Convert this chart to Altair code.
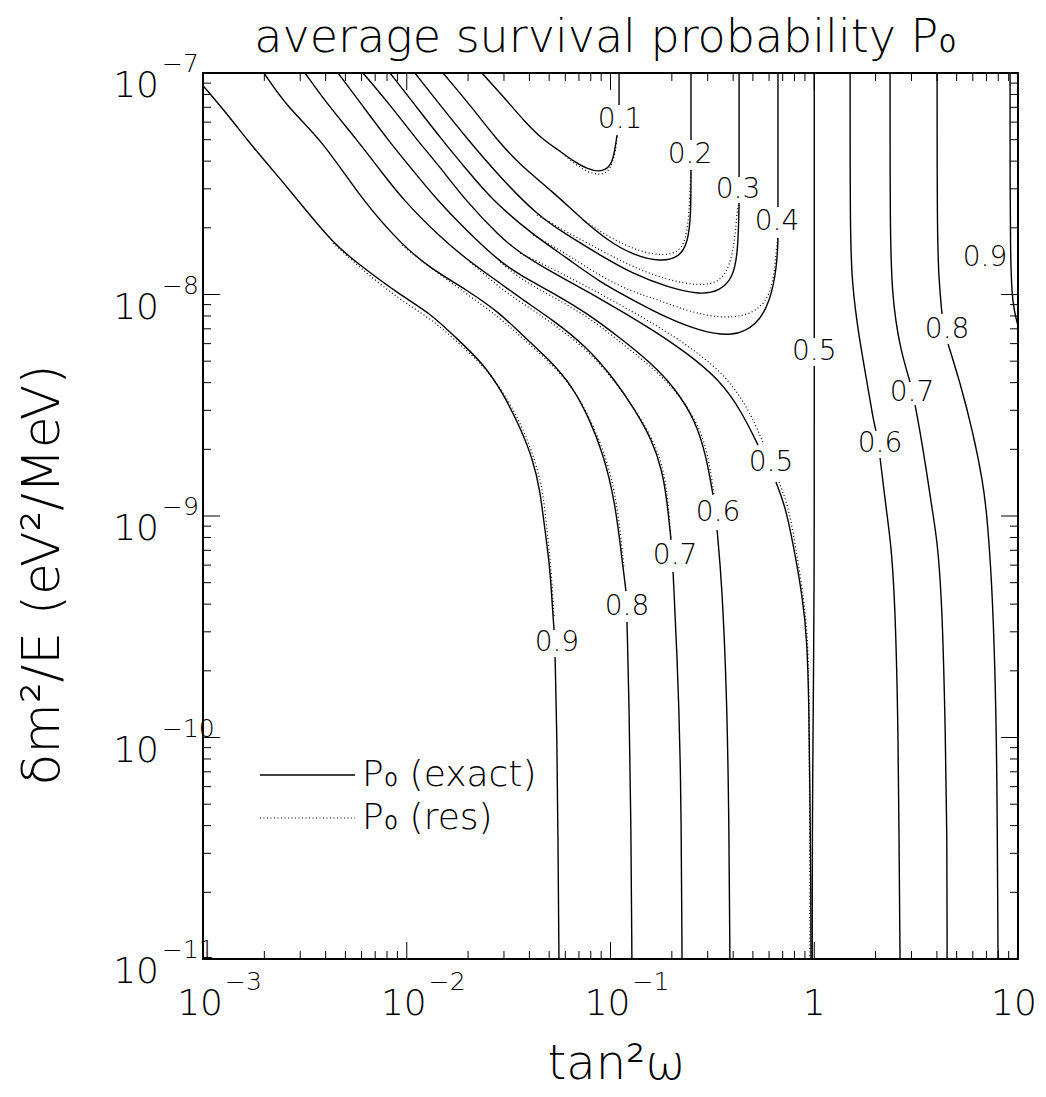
import altair as alt
import pandas as pd

FONT = "DejaVu Sans"
FW = 200
W, H = 815, 886

# ---------- contour lines, exact P0 (values: log10 tan^2w , log10 dm^2/E) ----------
e01a_x = [-1.631, -1.533, -1.420, -1.331, -1.248, -1.184, -1.115, -1.052, -1.007, -0.983, -0.968]
e01a_y = [-7.0, -7.099, -7.221, -7.302, -7.352, -7.397, -7.433, -7.447, -7.429, -7.379, -7.280]
e01b_x = [-0.958, -0.958]
e01b_y = [-7.144, -7.0]

e02a_x = [-1.822, -1.690, -1.557, -1.444, -1.282, -1.135, -1.017, -0.890, -0.757, -0.659, -0.620, -0.605, -0.605]
e02a_y = [-7.0, -7.144, -7.302, -7.415, -7.537, -7.664, -7.754, -7.822, -7.853, -7.831, -7.763, -7.641, -7.438]
e02b_x = [-0.605, -0.605]
e02b_y = [-7.302, -7.0]

e03a_x = [-1.960, -1.837, -1.699, -1.542, -1.361, -1.214, -1.052, -0.890, -0.723, -0.561, -0.463, -0.399, -0.374, -0.369]
e03a_y = [-7.0, -7.144, -7.302, -7.470, -7.641, -7.731, -7.822, -7.907, -7.966, -8.002, -7.984, -7.925, -7.808, -7.587]
e03b_x = [-0.369, -0.369]
e03b_y = [-7.470, -7.0]

e04a_x = [-2.082, -1.960, -1.827, -1.704, -1.582, -1.380, -1.214, -1.052, -0.890, -0.723, -0.561, -0.399, -0.281, -0.217, -0.183, -0.178]
e04a_y = [-7.0, -7.144, -7.302, -7.438, -7.573, -7.731, -7.835, -7.944, -8.025, -8.106, -8.165, -8.192, -8.138, -8.034, -7.876, -7.745]
e04b_x = [-0.178, -0.178]
e04b_y = [-7.605, -7.0]

e05a_x = [-2.215, -2.082, -1.950, -1.837, -1.714, -1.542, -1.444, -1.282, -1.037, -0.791, -0.625, -0.463, -0.355, -0.276]
e05a_y = [-7.0, -7.144, -7.302, -7.424, -7.573, -7.740, -7.813, -7.903, -8.025, -8.160, -8.264, -8.386, -8.531, -8.680]
e05b_x = [-0.188, -0.144, -0.104, -0.055, -0.036, -0.026, -0.021, -0.016, -0.016]
e05b_y = [-8.847, -8.950, -9.122, -9.379, -9.560, -9.831, -10.282, -10.734, -11.0]
e05c_x = [0.0, 0.0]
e05c_y = [-7.0, -8.196]
e05d_x = [0.0, 0.0, -0.005, -0.010, -0.010]
e05d_y = [-8.323, -9.379, -9.831, -10.508, -11.0]

e06a_x = [-2.337, -2.220, -2.092, -1.984, -1.852, -1.699, -1.542, -1.444, -1.282, -1.115, -0.953, -0.806, -0.683, -0.585, -0.531, -0.497]
e06a_y = [-7.0, -7.144, -7.302, -7.424, -7.573, -7.718, -7.853, -7.912, -7.993, -8.084, -8.196, -8.305, -8.422, -8.567, -8.725, -8.905]
e06b_x = [-0.477, -0.453, -0.428, -0.418, -0.414]
e06b_y = [-9.063, -9.303, -9.831, -10.431, -11.0]
e06c_x = [0.176, 0.176, 0.185, 0.215, 0.259, 0.288, 0.303]
e06c_y = [-7.0, -7.718, -7.944, -8.169, -8.395, -8.558, -8.616]
e06d_x = [0.323, 0.357, 0.377, 0.396, 0.411, 0.416, 0.421]
e06d_y = [-8.738, -8.996, -9.131, -9.379, -9.908, -10.431, -11.0]

e07a_x = [-2.499, -2.387, -2.244, -2.131, -2.018, -1.837, -1.690, -1.542, -1.444, -1.282, -1.115, -0.978, -0.880, -0.796, -0.747, -0.723, -0.703]
e07a_y = [-7.0, -7.144, -7.302, -7.438, -7.573, -7.740, -7.853, -7.948, -8.016, -8.115, -8.237, -8.386, -8.521, -8.657, -8.792, -8.928, -9.108]
e07b_x = [-0.693, -0.674, -0.654, -0.649]
e07b_y = [-9.253, -9.605, -10.133, -11.0]
e07c_x = [0.372, 0.372, 0.382, 0.421, 0.460, 0.470]
e07c_y = [-7.0, -7.718, -8.016, -8.242, -8.363, -8.395]
e07d_x = [0.495, 0.534, 0.583, 0.603, 0.627, 0.642, 0.652, 0.652]
e07d_y = [-8.499, -8.693, -8.996, -9.108, -9.379, -9.908, -10.431, -11.0]

e08a_x = [-2.701, -2.583, -2.416, -2.220, -2.023, -1.886, -1.704, -1.542, -1.444, -1.297, -1.184, -1.101, -1.037, -0.978, -0.939, -0.924]
e08a_y = [-7.0, -7.158, -7.302, -7.573, -7.777, -7.880, -7.980, -8.084, -8.174, -8.296, -8.418, -8.567, -8.716, -8.928, -9.230, -9.339]
e08b_x = [-0.919, -0.909, -0.899, -0.895]
e08b_y = [-9.479, -9.831, -10.431, -11.0]
e08c_x = [0.603, 0.603, 0.612, 0.627]
e08c_y = [-7.0, -7.718, -7.944, -8.088]
e08d_x = [0.657, 0.715, 0.779, 0.828, 0.848, 0.872, 0.887, 0.897, 0.902]
e08d_y = [-8.224, -8.395, -8.621, -8.847, -8.996, -9.303, -9.682, -10.133, -11.0]

e09a_x = [-3.0, -2.877, -2.779, -2.696, -2.612, -2.524, -2.362, -2.244, -2.033, -1.886, -1.773, -1.626, -1.528, -1.444, -1.380, -1.346, -1.322, -1.297, -1.282, -1.277]
e09a_y = [-7.057, -7.190, -7.307, -7.397, -7.488, -7.587, -7.768, -7.858, -8.002, -8.084, -8.183, -8.309, -8.445, -8.598, -8.747, -8.883, -9.063, -9.230, -9.456, -9.515]
e09b_x = [-1.272, -1.263, -1.258, -1.253]
e09b_y = [-9.637, -9.980, -10.431, -11.0]
e09c_x = [0.961, 0.961, 0.976, 0.990, 1.0]
e09c_y = [-7.0, -7.898, -8.047, -8.106, -8.142]

# ---------- contour lines, resonance approximation (dotted) ----------
r01_x = [-1.248, -1.184, -1.115, -1.052, -1.012, -0.988, -0.973, -0.968]
r01_y = [-7.352, -7.406, -7.447, -7.461, -7.447, -7.402, -7.339, -7.280]
r02_x = [-1.135, -1.002, -0.855, -0.733, -0.659, -0.629, -0.615, -0.610, -0.605]
r02_y = [-7.664, -7.745, -7.808, -7.826, -7.804, -7.745, -7.641, -7.528, -7.438]
r03_x = [-1.361, -1.214, -1.052, -0.890, -0.723, -0.561, -0.463, -0.414, -0.389, -0.379, -0.369]
r03_y = [-7.641, -7.718, -7.799, -7.876, -7.935, -7.962, -7.944, -7.871, -7.754, -7.619, -7.587]
r04_x = [-1.380, -1.214, -1.052, -0.890, -0.791, -0.610, -0.463, -0.340, -0.266, -0.217, -0.193, -0.183, -0.178]
r04_y = [-7.731, -7.817, -7.917, -7.989, -8.016, -8.079, -8.106, -8.097, -8.061, -7.998, -7.889, -7.754, -7.745]
r05a_x = [-1.444, -1.272, -1.027, -0.777, -0.600, -0.433, -0.325, -0.252]
r05a_y = [-7.813, -7.889, -8.007, -8.138, -8.242, -8.368, -8.512, -8.666]
r05b_x = [-0.173, -0.129, -0.094, -0.050, -0.031, -0.026, -0.021, -0.021]
r05b_y = [-8.847, -8.950, -9.122, -9.379, -9.560, -9.831, -10.508, -11.0]
r06_x = [-1.542, -1.434, -1.272, -1.101, -0.939, -0.791, -0.664, -0.566, -0.517, -0.492]
r06_y = [-7.853, -7.935, -8.016, -8.106, -8.224, -8.332, -8.449, -8.589, -8.738, -8.905]
r07_x = [-1.690, -1.542, -1.434, -1.272, -1.101, -0.963, -0.865, -0.782, -0.737, -0.718, -0.703]
r07_y = [-7.853, -7.971, -8.038, -8.138, -8.260, -8.409, -8.540, -8.670, -8.801, -8.928, -9.108]
r08_x = [-2.023, -1.896, -1.704, -1.542, -1.434, -1.282, -1.169, -1.086, -1.022, -0.968, -0.934]
r08_y = [-7.777, -7.871, -7.998, -8.106, -8.196, -8.318, -8.440, -8.589, -8.734, -8.928, -9.230]
r09_x = [-2.362, -2.229, -2.033, -1.886, -1.763, -1.616, -1.513, -1.425, -1.366, -1.331, -1.312, -1.292, -1.277]
r09_y = [-7.768, -7.880, -8.025, -8.106, -8.205, -8.327, -8.458, -8.612, -8.761, -8.892, -9.063, -9.230, -9.456]

# ---------- contour labels ----------
lab_x = [-0.953, -0.610, -0.374, -0.183, 0.0, -0.212, -0.472, -0.683, -0.919, -1.263, 0.323, 0.480, 0.652, 0.838]
lab_y = [-7.212, -7.370, -7.528, -7.673, -8.260, -8.761, -8.987, -9.181, -9.411, -9.573, -8.675, -8.445, -8.160, -7.835]
lab_t = ["0.1", "0.2", "0.3", "0.4", "0.5", "0.5", "0.6", "0.7", "0.8", "0.9", "0.6", "0.7", "0.8", "0.9"]

# ---------- axes ----------
x_major = [1e-3, 1e-2, 1e-1, 1.0, 10.0]
x_minor = [k * 10.0 ** n for n in range(-3, 1) for k in range(2, 10)]
y_major = [1e-11, 1e-10, 1e-9, 1e-8, 1e-7]
y_minor = [k * 10.0 ** n for n in range(-11, -7) for k in range(2, 10)]
x_exp_vals = [1e-3, 1e-2, 1e-1]
x_exp_text = ["\u22123", "\u22122", "\u22121"]
y_exp_vals = [1e-7, 1e-8, 1e-9, 1e-10, 1e-11]
y_exp_text = ["\u22127", "\u22128", "\u22129", "\u221210", "\u221211"]

exact_segments = [
    (e01a_x, e01a_y), (e01b_x, e01b_y), (e02a_x, e02a_y), (e02b_x, e02b_y),
    (e03a_x, e03a_y), (e03b_x, e03b_y), (e04a_x, e04a_y), (e04b_x, e04b_y),
    (e05a_x, e05a_y), (e05b_x, e05b_y), (e05c_x, e05c_y), (e05d_x, e05d_y),
    (e06a_x, e06a_y), (e06b_x, e06b_y), (e06c_x, e06c_y), (e06d_x, e06d_y),
    (e07a_x, e07a_y), (e07b_x, e07b_y), (e07c_x, e07c_y), (e07d_x, e07d_y),
    (e08a_x, e08a_y), (e08b_x, e08b_y), (e08c_x, e08c_y), (e08d_x, e08d_y),
    (e09a_x, e09a_y), (e09b_x, e09b_y), (e09c_x, e09c_y),
]
res_segments = [
    (r01_x, r01_y), (r02_x, r02_y), (r03_x, r03_y), (r04_x, r04_y),
    (r05a_x, r05a_y), (r05b_x, r05b_y), (r06_x, r06_y), (r07_x, r07_y),
    (r08_x, r08_y), (r09_x, r09_y),
]


def seg_frame(segments, prefix):
    rows = []
    for s, (xs_, ys_) in enumerate(segments):
        for i, (a, b) in enumerate(zip(xs_, ys_)):
            rows.append({"seg": f"{prefix}{s}", "ord": i, "x": 10 ** a, "y": 10 ** b})
    return pd.DataFrame(rows)


df_exact = seg_frame(exact_segments, "e")
df_res = seg_frame(res_segments, "r")
df_lab = pd.DataFrame({"x": [10 ** v for v in lab_x], "y": [10 ** v for v in lab_y], "t": lab_t})

xs = alt.Scale(type="log", domain=[1e-3, 10])
ys = alt.Scale(type="log", domain=[1e-11, 1e-7])
X = alt.X("x:Q", scale=xs, axis=None)
Y = alt.Y("y:Q", scale=ys, axis=None)

res_lines = alt.Chart(df_res).mark_line(
    color="black", strokeWidth=1.2, strokeDash=[1, 2.5], clip=True, interpolate="basis"
).encode(x=X, y=Y, detail="seg:N", order="ord:Q")

exact_lines = alt.Chart(df_exact).mark_line(
    color="black", strokeWidth=1.4, clip=True, interpolate="basis"
).encode(x=X, y=Y, detail="seg:N", order="ord:Q")

labels = alt.Chart(df_lab).mark_text(
    font=FONT, fontWeight=FW, fontSize=28, color="black", align="center", baseline="middle"
).encode(x=X, y=Y, text="t:N")

# ticks (inside, all four sides)
dxM = pd.DataFrame({"x": x_major})
dxm = pd.DataFrame({"x": x_minor})
dyM = pd.DataFrame({"y": y_major})
dym = pd.DataFrame({"y": y_minor})
TM, Tm = 17, 8
tick_layers = []
for d, L in ((dxM, TM), (dxm, Tm)):
    tick_layers.append(alt.Chart(d).mark_rule(color="black", strokeWidth=1).encode(
        x=X, y=alt.value(H), y2=alt.value(H - L)))
    tick_layers.append(alt.Chart(d).mark_rule(color="black", strokeWidth=1).encode(
        x=X, y=alt.value(0), y2=alt.value(L)))
for d, L in ((dyM, TM), (dym, Tm)):
    tick_layers.append(alt.Chart(d).mark_rule(color="black", strokeWidth=1).encode(
        y=Y, x=alt.value(0), x2=alt.value(L)))
    tick_layers.append(alt.Chart(d).mark_rule(color="black", strokeWidth=1).encode(
        y=Y, x=alt.value(W), x2=alt.value(W - L)))

# tick labels
dxe = pd.DataFrame({"x": x_exp_vals, "e": x_exp_text, "b": ["10"] * 3})
dye = pd.DataFrame({"y": y_exp_vals, "e": y_exp_text, "b": ["10"] * 5})
BASE, EXP = 36, 25
TXT = dict(font=FONT, fontWeight=FW, color="black")
xlab_base = alt.Chart(dxe).mark_text(fontSize=BASE, align="right", baseline="middle", dx=20, **TXT).encode(
    x=X, y=alt.value(H + 45), text="b:N")
xlab_exp = alt.Chart(dxe).mark_text(fontSize=EXP, align="left", baseline="middle", dx=22, **TXT).encode(
    x=X, y=alt.value(H + 23), text="e:N")
xlab_one = alt.Chart(pd.DataFrame({"x": [1.0], "b": ["1"]})).mark_text(
    fontSize=BASE, align="center", baseline="middle", **TXT).encode(x=X, y=alt.value(H + 45), text="b:N")
xlab_ten = alt.Chart(pd.DataFrame({"x": [10.0], "b": ["10"]})).mark_text(
    fontSize=BASE, align="center", baseline="middle", dx=-4, **TXT).encode(x=X, y=alt.value(H + 45), text="b:N")
ylab_base = alt.Chart(dye).mark_text(fontSize=BASE, align="right", baseline="middle", dy=13, **TXT).encode(
    y=Y, x=alt.value(-44), text="b:N")
ylab_exp = alt.Chart(dye).mark_text(fontSize=EXP, align="left", baseline="middle", dy=-9, **TXT).encode(
    y=Y, x=alt.value(-41), text="e:N")

# titles
title = alt.Chart(pd.DataFrame({"t": ["average survival probability P\u2080"]})).mark_text(
    fontSize=46, align="center", baseline="middle", **TXT).encode(
    x=alt.value(W / 2 - 5), y=alt.value(-35), text="t:N")
xtitle = alt.Chart(pd.DataFrame({"t": ["tan\u00b2\u03c9"]})).mark_text(
    fontSize=48, align="center", baseline="middle", **TXT).encode(
    x=alt.value(W / 2 + 6), y=alt.value(H + 106), text="t:N")
ytitle = alt.Chart(pd.DataFrame({"t": ["\u03b4m\u00b2/E  (eV\u00b2/MeV)"]})).mark_text(
    fontSize=52, align="center", baseline="middle", angle=270, **TXT).encode(
    x=alt.value(-160), y=alt.value(502), text="t:N")

# legend
leg_solid = alt.Chart(pd.DataFrame({"k": [0]})).mark_rule(color="black", strokeWidth=1.4).encode(
    x=alt.value(57), x2=alt.value(152), y=alt.value(702))
leg_dot = alt.Chart(pd.DataFrame({"k": [0]})).mark_rule(color="black", strokeWidth=1.2, strokeDash=[1, 2.5]).encode(
    x=alt.value(57), x2=alt.value(152), y=alt.value(745))
leg_t1 = alt.Chart(pd.DataFrame({"t": ["P\u2080 (exact)"]})).mark_text(
    fontSize=36, align="left", baseline="middle", **TXT).encode(
    x=alt.value(159), y=alt.value(702), text="t:N")
leg_t2 = alt.Chart(pd.DataFrame({"t": ["P\u2080 (res)"]})).mark_text(
    fontSize=36, align="left", baseline="middle", **TXT).encode(
    x=alt.value(159), y=alt.value(745), text="t:N")

chart = alt.layer(
    res_lines, exact_lines, labels, *tick_layers,
    xlab_base, xlab_exp, xlab_one, xlab_ten, ylab_base, ylab_exp,
    title, xtitle, ytitle, leg_solid, leg_dot, leg_t1, leg_t2,
).properties(
    width=W, height=H,
    autosize=alt.AutoSizeParams(type="none"),
    padding={"left": 195, "top": 65, "right": 20, "bottom": 130},
).configure_view(stroke="black", strokeWidth=2)

chart.save("out.html", embed_options={"renderer": "svg", "actions": False})
